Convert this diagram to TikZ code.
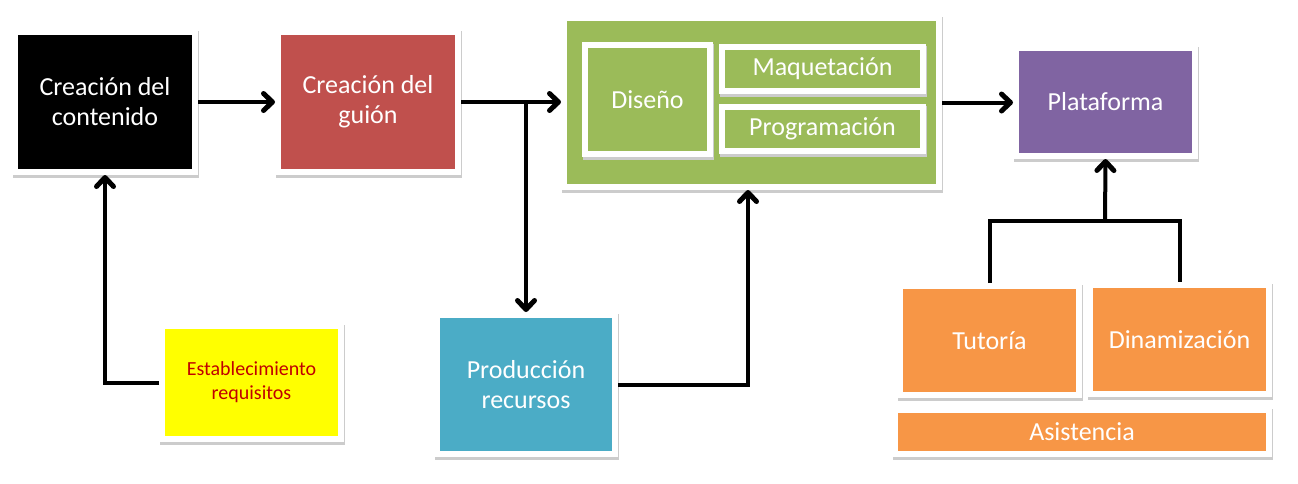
\documentclass[tikz,border=0pt]{standalone}
\usepackage{fontspec}
\setmainfont{Carlito}
\usetikzlibrary{arrows.meta,backgrounds,calc}
\definecolor{cred}{HTML}{C0504D}
\definecolor{cgreen}{HTML}{9BBB59}
\definecolor{cpurple}{HTML}{8064A2}
\definecolor{cteal}{HTML}{4BACC6}
\definecolor{corange}{HTML}{F79646}
\definecolor{cyellow}{HTML}{FFFF00}
\definecolor{cdarkred}{HTML}{C00000}
\begin{document}
\begin{tikzpicture}[x=1pt,y=-1pt,
  box/.style={draw=white, line width=6pt, inner sep=0pt, outer sep=3pt,
    text=white, font=\fontsize{26}{30}\selectfont, align=center},
  shadowfill/.style={fill=black!20},
  conn/.style={line width=4pt, draw=black},
  arr/.style={conn, -{Straight Barb[length=9pt,width=17pt,line width=5pt,round]}}]
\useasboundingbox (0,0) rectangle (1298,483);

\node[box, fill=black, minimum width=180pt, minimum height=140pt] (cont) at (105,102) {Creación del\\contenido};
\node[box, fill=cred, minimum width=180pt, minimum height=140pt] (guion) at (368,102) {Creación del\\guión};
\node[box, fill=cgreen, minimum width=375pt, minimum height=169pt] (green) at (751.5,102.5) {};
\node[box, fill=cyellow, text=cdarkred, font=\fontsize{20}{24}\selectfont, minimum width=179pt, minimum height=113pt] (estab) at (251.5,382.5) {Establecimiento\\requisitos};
\node[box, fill=cteal, minimum width=178pt, minimum height=139pt] (prod) at (526,384.5) {Producción\\recursos};
\node[box, fill=cpurple, minimum width=179pt, minimum height=108pt] (plat) at (1105.5,102) {Plataforma};
\node[box, fill=corange, minimum width=179pt, minimum height=109pt] (tut) at (989.5,340.5) {Tutoría};
\node[box, fill=corange, minimum width=179pt, minimum height=109pt] (din) at (1179.5,339.5) {Dinamización};
\node[box, fill=corange, minimum width=374pt, minimum height=44pt] (asis) at (1082,432) {Asistencia};

% shadows behind the outer boxes
\begin{scope}[on background layer]
\foreach \n in {cont,guion,green,estab,prod,plat,tut,din,asis}{
  \fill[shadowfill] ($(\n.north west)+(1,2)$) rectangle ($(\n.south east)+(1,3)$);
}
\end{scope}

% inner boxes of the green block, with their shadows
\foreach \cx/\cy/\w/\h in {647.5/99.5/125/109, 822.5/69/201/44, 822.5/129/201/44}{
  \fill[shadowfill] (\cx-\w/2-2,\cy-\h/2-1) rectangle (\cx+\w/2+4,\cy+\h/2+6);
}
\node[box, fill=cgreen, minimum width=125pt, minimum height=109pt] (diseno) at (647.5,99.5) {Diseño};
\node[box, fill=cgreen, minimum width=201pt, minimum height=44pt] (maq) at (822.5,69) {Maquetación};
\node[box, fill=cgreen, minimum width=201pt, minimum height=44pt] (prog) at (822.5,129) {Programación};

\coordinate (j) at (1105,221);

\draw[arr] (cont.east) -- (guion.west);
\draw[arr] (guion.east) -- (guion.east -| green.west);
\draw[arr] (guion.east -| prod.north) -- (prod.north);
\draw[arr] (estab.west) -| (cont.south);
\draw[arr] (prod.east) -| ([xshift=-3.5pt]green.south);
\draw[arr] (green.east) -- (green.east -| plat.west);
\draw[conn] (tut.north) |- (j) -| (din.north);
\draw[arr] (j) -- (plat.south);
\end{tikzpicture}
\end{document}
